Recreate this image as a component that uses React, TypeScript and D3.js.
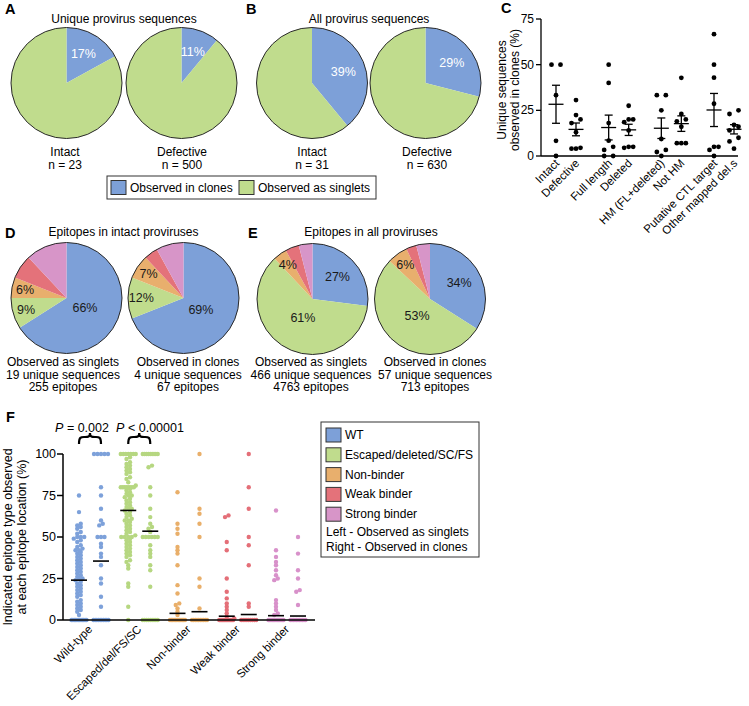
import React from 'react';
import * as d3 from 'd3';

const FONT = '"Liberation Sans", Arial, sans-serif';

// ---------- DATA ----------
// Panels A/B
const abCategories = ['Observed in clones', 'Observed as singlets'];
const uniqueIntact = [17, 83];
const uniqueDefective = [11, 89];
const allIntact = [39, 61];
const allDefective = [29, 71];
const abCaptionNames = ['Intact', 'Defective', 'Intact', 'Defective'];
const abCaptionN = ['n = 23', 'n = 500', 'n = 31', 'n = 630'];

// Panels D/E
const epitopeTypes = ['WT', 'Escaped/deleted/SC/FS', 'Non-binder', 'Weak binder', 'Strong binder'];
const dSinglets = [66, 9, 6, 7, 12];
const dClones = [69, 12, 7, 4, 8];
const eSinglets = [27, 61, 4, 4, 4];
const eClones = [34, 53, 6, 3, 4];
const dCaptionsLeft = ['Observed as singlets', '19 unique sequences', '255 epitopes'];
const dCaptionsRight = ['Observed in clones', '4 unique sequences', '67 epitopes'];
const eCaptionsLeft = ['Observed as singlets', '466 unique sequences', '4763 epitopes'];
const eCaptionsRight = ['Observed in clones', '57 unique sequences', '713 epitopes'];

// Panel C
const cCategories = ['Intact', 'Defective', 'Full length', 'Deleted', 'HM (FL+deleted)', 'Not HM', 'Putative CTL target', 'Other mapped del.s'];
const cIntact = [50, 50, 33.3, 8.3, 0];
const cDefective = [30.6, 22.4, 20, 18, 13, 4.5, 4, 4];
const cFullLength = [50, 40, 18, 8.4, 5, 3.3, 0, 0];
const cDeleted = [27.5, 20, 20, 18.5, 14, 5, 5, 4.5];
const cHM = [33.3, 33.3, 25, 9.3, 3.3, 2.2, 0];
const cNotHM = [42.8, 23, 20, 19, 16, 7, 7, 7];
const cPutative = [66.7, 50, 42.9, 28.6, 5, 5, 3.3, 0];
const cOtherMapped = [25, 23, 17, 16, 14, 10, 8, 4];
const cTicks = [0, 25, 50, 75];

// Panel F
const fGroups = ['Wild-type', 'Escaped/del/FS/SC', 'Non-binder', 'Weak binder', 'Strong binder'];
const fTicks = [0, 25, 50, 75, 100];
const wtSinglets = [75, 65, 58, 57, 56, 55, 53, 52, 50, 50, 50, 49, 48, 47, 45, 44, 43, 42, 42, 41, 40, 39, 38, 37, 36, 35, 34, 33, 32, 31, 30, 29, 28, 27, 26, 25, 25, 24, 23, 22, 21, 20, 19, 18, 17, 16, 15, 14, 12, 11, 10, 9, 8, 7, 6, 5, 3, 0, 0, 0, 0, 0, 0, 0, 0, 0, 0, 0, 0];
const wtClones = [100, 100, 100, 100, 100, 80, 75, 67, 60, 58, 57, 50, 50, 50, 46, 44, 40, 38, 33, 25, 22, 14, 8, 0, 0, 0, 0, 0, 0, 0, 0, 0, 0];
const escSinglets = [100, 100, 100, 100, 100, 100, 100, 98, 97, 95, 94, 93, 92, 91, 90, 89, 88, 86, 85, 83, 81, 80, 80, 80, 80, 80, 80, 80, 80, 79, 78, 77, 76, 75, 75, 74, 73, 72, 71, 70, 69, 68, 67, 67, 66, 65, 64, 63, 62, 61, 60, 60, 59, 58, 57, 56, 55, 54, 53, 52, 51, 50, 50, 50, 50, 49, 48, 47, 46, 45, 44, 43, 42, 41, 40, 39, 38, 36, 35, 33, 31, 22, 20, 8, 0];
const escClones = [100, 100, 100, 100, 100, 100, 100, 100, 100, 93, 92, 80, 75, 67, 62, 58, 56, 55, 53, 50, 50, 50, 50, 50, 50, 45, 42, 40, 38, 33, 30, 20, 0, 0, 0, 0, 0, 0, 0, 0, 0];
const nbSinglets = [77, 58, 55, 52, 44, 42, 40, 33, 21, 16, 10, 9, 7, 5, 3, 0, 0, 0, 0, 0, 0, 0, 0, 0, 0, 0, 0];
const nbClones = [100, 67, 64, 58, 50, 25, 20, 7, 0, 0, 0, 0, 0, 0, 0, 0, 0, 0];
const weakSinglets = [63, 62, 47, 42, 25, 17, 13, 10, 8, 6, 4, 2, 1, 0, 0, 0, 0, 0, 0, 0, 0, 0, 0, 0, 0, 0, 0];
const weakClones = [100, 80, 67, 50, 45, 33, 10, 8, 0, 0, 0, 0, 0, 0, 0, 0, 0];
const strongSinglets = [66, 42, 38, 35, 33, 30, 27, 25, 24, 12, 10, 8, 6, 4, 3, 0, 0, 0, 0, 0, 0, 0, 0, 0, 0, 0, 0, 0];
const strongClones = [50, 40, 30, 25, 18, 17, 9, 0, 0, 0, 0, 0, 0, 0, 0, 0, 0, 0];
const fMeans = [24, 35.5, 66, 53.5, 4, 5, 2.3, 3.3, 2.6, 2.4];
const fLegendNotes = ['Left - Observed as singlets', 'Right - Observed in clones'];

// ---------- STYLE ----------
const BLUE = '#7DA0D8';
const GREEN = '#C0DC8D';
const ORANGE = '#E8AF6D';
const RED = '#E4727A';
const PINK = '#D795C8';
const typeColors = [BLUE, GREEN, ORANGE, RED, PINK];
const dotColors = ['#7DA1DA', '#B6D781', '#E9AF6A', '#E46F78', '#D891CA'];

function swarm(values: number[], y: (v: number) => number, threshold: number, step: number, maxHalf: number) {
  const sorted = [...values].sort((a, b) => a - b);
  const groups: number[][] = [];
  let cur: number[] = [];
  let y0 = 0;
  for (const v of sorted) {
    const py = y(v);
    if (cur.length && Math.abs(py - y0) < threshold) cur.push(v);
    else {
      if (cur.length) groups.push(cur);
      cur = [v];
      y0 = py;
    }
  }
  if (cur.length) groups.push(cur);
  const out: { v: number; dx: number }[] = [];
  for (const g of groups) {
    const n = g.length;
    const half = Math.min(((n - 1) * step) / 2, maxHalf);
    g.forEach((v, i) => out.push({ v, dx: n === 1 ? 0 : -half + (2 * half * i) / (n - 1) }));
  }
  return out;
}

type PieProps = {
  cx: number; cy: number; r: number; values: number[]; colors: string[];
  labelIdx: number[]; labelColor: string; labelR: (f: number) => number;
};

function Pie({ cx, cy, r, values, colors, labelIdx, labelColor, labelR }: PieProps) {
  const arcs = d3.pie<number>().sort(null).value((d) => d)(values);
  const arc = d3.arc<d3.PieArcDatum<number>>().innerRadius(0).outerRadius(r);
  const total = d3.sum(values);
  return (
    <g transform={`translate(${cx},${cy})`}>
      {arcs.map((a, i) => (
        <path key={i} d={arc(a) || ''} fill={colors[i]} />
      ))}
      <circle r={r} fill="none" stroke="#2a2a2a" strokeWidth={1} />
      {arcs.map((a, i) => {
        if (!labelIdx.includes(i)) return null;
        const lr = labelR(a.value / total) * r;
        const c = d3.arc<d3.PieArcDatum<number>>().innerRadius(lr).outerRadius(lr).centroid(a);
        return (
          <text key={'l' + i} x={c[0]} y={c[1]} textAnchor="middle" dominantBaseline="central" fontSize={12.5} fill={labelColor}>
            {Math.round((a.value / total) * 100)}%
          </text>
        );
      })}
    </g>
  );
}

const deLabelR = (f: number) => (f > 0.45 ? 0.38 : f > 0.15 ? 0.6 : 0.76);

function PanelC() {
  const groups = cCategories.map((_, i) => Math.floor(i / 2));
  const xPair = d3.scalePoint<number>().domain([0, 1, 2, 3]).range([566, 724]);
  const xc = (i: number) => (xPair(groups[i]) as number) + (i % 2 ? 10 : -10);
  const y = d3.scaleLinear().domain([0, 75]).range([156, 19]);
  const series = [cIntact, cDefective, cFullLength, cDeleted, cHM, cNotHM, cPutative, cOtherMapped];
  return (
    <g>
      <line x1={541} x2={541} y1={y(75)} y2={y(0)} stroke="#000" strokeWidth={1.3} />
      <line x1={541} x2={738} y1={y(0)} y2={y(0)} stroke="#000" strokeWidth={1.3} />
      {cTicks.map((t) => (
        <g key={t}>
          <line x1={536} x2={541} y1={y(t)} y2={y(t)} stroke="#000" strokeWidth={1.3} />
          <text x={534} y={y(t)} textAnchor="end" dominantBaseline="central" fontSize={12}>{t}</text>
        </g>
      ))}
      <text transform="translate(506,90) rotate(-90)" textAnchor="middle" fontSize={12}>Unique sequences</text>
      <text transform="translate(519,90) rotate(-90)" textAnchor="middle" fontSize={12}>observed in clones (%)</text>
      {series.map((vals, i) => {
        const m = d3.mean(vals) as number;
        const sem = (d3.deviation(vals) as number) / Math.sqrt(vals.length);
        const pts = swarm(vals, y, 4, 9, 4.5);
        const x = xc(i);
        return (
          <g key={i}>
            {pts.map((p, j) => (
              <circle key={j} cx={x + p.dx} cy={y(p.v)} r={2.4} fill="#000" />
            ))}
            <line x1={x - 7.5} x2={x + 7.5} y1={y(m)} y2={y(m)} stroke="#000" strokeWidth={1.3} />
            <line x1={x} x2={x} y1={y(m - sem)} y2={y(m + sem)} stroke="#000" strokeWidth={1.3} />
            <line x1={x - 4} x2={x + 4} y1={y(m - sem)} y2={y(m - sem)} stroke="#000" strokeWidth={1.3} />
            <line x1={x - 4} x2={x + 4} y1={y(m + sem)} y2={y(m + sem)} stroke="#000" strokeWidth={1.3} />
            <text transform={`translate(${x + 4},${164}) rotate(-45)`} textAnchor="end" fontSize={11.5}>{cCategories[i]}</text>
          </g>
        );
      })}
    </g>
  );
}

function PanelF() {
  const xg = d3.scalePoint<string>().domain(fGroups).range([90, 287]);
  const y = d3.scaleLinear().domain([0, 100]).range([620, 454]);
  const cols = [wtSinglets, wtClones, escSinglets, escClones, nbSinglets, nbClones, weakSinglets, weakClones, strongSinglets, strongClones];
  const colX = (i: number) => (xg(fGroups[Math.floor(i / 2)]) as number) + (i % 2 ? 11 : -11);
  const brace = (x1: number, x2: number) => {
    const yt = 433, ym = 437, yb = 444, xm = (x1 + x2) / 2;
    return `M${x1},${yb} C${x1},${ym} ${x1 + 2},${ym} ${x1 + 5},${ym} L${xm - 5},${ym} C${xm - 2},${ym} ${xm},${ym} ${xm},${yt} C${xm},${ym} ${xm + 2},${ym} ${xm + 5},${ym} L${x2 - 5},${ym} C${x2 - 2},${ym} ${x2},${ym} ${x2},${yb}`;
  };
  return (
    <g>
      {cols.map((vals, i) => {
        const pts = swarm(vals, y, 3, 3.5, 7.5);
        const x = colX(i);
        return (
          <g key={i}>
            {pts.map((p, j) => (
              <circle key={j} cx={x + p.dx} cy={y(p.v)} r={2.2} fill={dotColors[Math.floor(i / 2)]} />
            ))}
          </g>
        );
      })}
      <line x1={63} x2={63} y1={y(100)} y2={y(0)} stroke="#000" strokeWidth={1.5} />
      <line x1={63} x2={315} y1={y(0)} y2={y(0)} stroke="#000" strokeWidth={1.5} />
      {fMeans.map((m, i) => (
        <line key={i} x1={colX(i) - 8} x2={colX(i) + 8} y1={y(m)} y2={y(m)} stroke="#000" strokeWidth={1.6} />
      ))}
      {fTicks.map((t) => (
        <g key={t}>
          <line x1={57} x2={63} y1={y(t)} y2={y(t)} stroke="#000" strokeWidth={1.5} />
          <text x={56} y={y(t)} textAnchor="end" dominantBaseline="central" fontSize={12.5}>{t}</text>
        </g>
      ))}
      {fGroups.map((g) => (
        <text key={g} transform={`translate(${(xg(g) as number) + 3},${630}) rotate(-45)`} textAnchor="end" fontSize={11.5}>{g}</text>
      ))}
      <text transform="translate(12,537) rotate(-90)" textAnchor="middle" fontSize={12.5}>Indicated epitope type observed</text>
      <text transform="translate(26,537) rotate(-90)" textAnchor="middle" fontSize={12.5}>at each epitope location (%)</text>
      <path d={brace(colX(0), colX(1))} fill="none" stroke="#000" strokeWidth={2.2} />
      <path d={brace(colX(2), colX(3))} fill="none" stroke="#000" strokeWidth={2.2} />
      <text x={82} y={432} textAnchor="middle" fontSize={12.5}>
        <tspan fontStyle="italic">P</tspan> = 0.002
      </text>
      <text x={150} y={432} textAnchor="middle" fontSize={12.5}>
        <tspan fontStyle="italic">P</tspan> {'<'} 0.00001
      </text>
      {/* legend */}
      <rect x={321} y={422} width={158} height={135} fill="#fff" stroke="#333" strokeWidth={1} />
      {epitopeTypes.map((t, i) => (
        <g key={t}>
          <rect x={326} y={428 + i * 19.8} width={15} height={14} fill={typeColors[i]} stroke="#333" strokeWidth={1} />
          <text x={345} y={435 + i * 19.8} dominantBaseline="central" fontSize={12}>{t}</text>
        </g>
      ))}
      {fLegendNotes.map((t, i) => (
        <text key={t} x={326} y={532 + i * 15} dominantBaseline="central" fontSize={12}>{t}</text>
      ))}
    </g>
  );
}

export default function App() {
  const R = 55.5;
  const abColors = [BLUE, GREEN];
  const abPies = [
    { cx: 66.5, vals: uniqueIntact },
    { cx: 181.5, vals: uniqueDefective },
    { cx: 312, vals: allIntact },
    { cx: 425.5, vals: allDefective },
  ];
  const abCapX = [65, 182, 312, 427];
  return (
    <svg width={749} height={706} style={{ position: 'absolute', left: 0, top: 0, background: '#fff' }} fontFamily={FONT}>
      <rect width={749} height={706} fill="#fff" />
      {/* panel letters */}
      {[['A', 5, 14], ['B', 246, 14], ['C', 501, 12.5], ['D', 5, 238], ['E', 248, 238], ['F', 6, 422]].map(([l, x, y]) => (
        <text key={l as string} x={x as number} y={y as number} fontSize={14.5} fontWeight="bold">{l}</text>
      ))}
      {/* A / B */}
      <text x={124} y={23} textAnchor="middle" fontSize={12}>Unique provirus sequences</text>
      <text x={369} y={23} textAnchor="middle" fontSize={12}>All provirus sequences</text>
      {abPies.map((p, i) => (
        <Pie key={i} cx={p.cx} cy={83} r={R} values={p.vals} colors={abColors} labelIdx={[0]} labelColor="#fff" labelR={() => 0.6} />
      ))}
      {abCaptionNames.map((n, i) => (
        <g key={i}>
          <text x={abCapX[i]} y={155.5} textAnchor="middle" fontSize={12}>{n}</text>
          <text x={abCapX[i]} y={168.5} textAnchor="middle" fontSize={12}>{abCaptionN[i]}</text>
        </g>
      ))}
      <rect x={107} y={176} width={269} height={23} fill="#fff" stroke="#333" strokeWidth={1} />
      <rect x={111} y={180.5} width={15} height={14} fill={BLUE} stroke="#333" strokeWidth={1} />
      <text x={130} y={188} dominantBaseline="central" fontSize={12}>{abCategories[0]}</text>
      <rect x={239} y={180.5} width={15} height={14} fill={GREEN} stroke="#333" strokeWidth={1} />
      <text x={258} y={188} dominantBaseline="central" fontSize={12}>{abCategories[1]}</text>
      {/* C */}
      <PanelC />
      {/* D / E */}
      <text x={123.5} y={236} textAnchor="middle" fontSize={12}>Epitopes in intact proviruses</text>
      <text x={371} y={236} textAnchor="middle" fontSize={12}>Epitopes in all proviruses</text>
      <Pie cx={66.5} cy={298} r={R} values={dSinglets} colors={typeColors} labelIdx={[0, 1, 2]} labelColor="#1a1a1a" labelR={deLabelR} />
      <Pie cx={183.5} cy={298} r={R} values={dClones} colors={typeColors} labelIdx={[0, 1, 2]} labelColor="#1a1a1a" labelR={deLabelR} />
      <Pie cx={312.5} cy={299} r={R} values={eSinglets} colors={typeColors} labelIdx={[0, 1, 2]} labelColor="#1a1a1a" labelR={deLabelR} />
      <Pie cx={430} cy={299} r={R} values={eClones} colors={typeColors} labelIdx={[0, 1, 2]} labelColor="#1a1a1a" labelR={deLabelR} />
      {[
        { x: 63, lines: dCaptionsLeft },
        { x: 188, lines: dCaptionsRight },
        { x: 311, lines: eCaptionsLeft },
        { x: 435, lines: eCaptionsRight },
      ].map((c, i) => (
        <g key={i}>
          {c.lines.map((l, j) => (
            <text key={j} x={c.x} y={366 + j * 12.5} textAnchor="middle" fontSize={12}>{l}</text>
          ))}
        </g>
      ))}
      {/* F */}
      <PanelF />
    </svg>
  );
}
